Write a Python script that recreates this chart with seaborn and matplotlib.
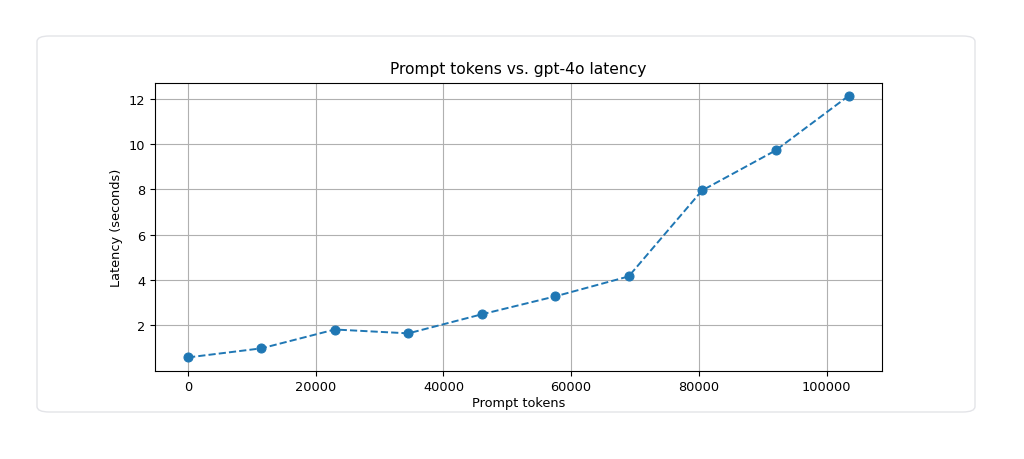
import matplotlib
matplotlib.use('Agg')
import matplotlib.pyplot as plt
import pandas as pd
import seaborn as sns
from matplotlib.patches import FancyBboxPatch

prompt_tokens = [0, 11500, 23000, 34500, 46000, 57500, 69000, 80500, 92000, 103500]
latency = [0.59, 0.99, 1.82, 1.65, 2.49, 3.28, 4.16, 7.95, 9.71, 12.13]


def main():
    df = pd.DataFrame({'tokens': prompt_tokens, 'latency': latency})

    fig = plt.figure(figsize=(10.24, 4.6), dpi=100)
    fig.patch.set_facecolor('white')

    # card frame behind the chart
    card = FancyBboxPatch((37 / 1024, 47 / 460), 938 / 1024, 376 / 460,
                          boxstyle='round,pad=0,rounding_size=0.012',
                          transform=fig.transFigure, facecolor='white',
                          edgecolor='#e3e4e8', linewidth=1.0, zorder=-5)
    fig.patches.append(card)

    ax = fig.add_axes([155 / 1024, 88.5 / 460, 727 / 1024, 288 / 460])
    ax.set_zorder(2)
    sns.lineplot(data=df, x='tokens', y='latency', ax=ax, marker='o',
                 linestyle='--', color='#1f77b4', markersize=6.5,
                 markeredgecolor='#1f77b4', linewidth=1.4)

    ax.grid(True, color='#b0b0b0', linewidth=0.8)
    ax.set_axisbelow(True)
    ax.tick_params(labelsize=9.3)
    ax.set_title('Prompt tokens vs. gpt-4o latency', fontsize=11.2, pad=6.5)
    ax.set_xlabel('Prompt tokens', fontsize=9.3, labelpad=2)
    ax.set_ylabel('Latency (seconds)', fontsize=9.3)

    fig.savefig('out.png', dpi=100)


if __name__ == '__main__':
    main()
